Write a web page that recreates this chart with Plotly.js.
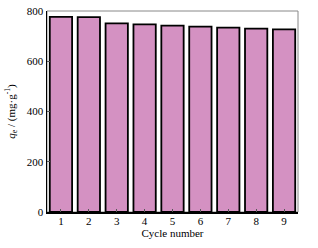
<!DOCTYPE html>
<html><head><meta charset="utf-8">
<script src="https://cdn.plot.ly/plotly-3.0.1.min.js"></script>
<style>html,body{margin:0;padding:0;background:#fff}#c{width:318px;height:248px}</style>
</head><body><div id="c"></div>
<script>
const cycles = [1,2,3,4,5,6,7,8,9];
const qe = [777, 776, 751, 747, 742, 738, 734, 730, 727];
const yTicks = [0,200,400,600,800];

const trace = {
  type: 'bar', x: cycles, y: qe, width: 0.8,
  marker: {color: '#d491c2', line: {color: '#000', width: 1.8}},
  hoverinfo: 'skip'
};
const layout = {
  width: 318, height: 248,
  margin: {l: 47, r: 20, t: 11, b: 36},
  paper_bgcolor: '#fff', plot_bgcolor: '#fff',
  font: {family: 'Liberation Serif, Times New Roman, serif', size: 11, color: '#000'},
  showlegend: false,
  bargap: 0.2,
  xaxis: {
    range: [0.5, 9.5], tickvals: cycles, ticktext: cycles.map(String),
    ticks: 'inside', ticklen: 3, tickcolor: '#555', showgrid: false, zeroline: false,
    showline: true, linecolor: '#000', linewidth: 1.5, ticklabelstandoff: -2,
    tickfont: {size: 11}, title: {text: 'Cycle number', font: {size: 11}, standoff: 2}
  },
  yaxis: {
    range: [0, 800], tickvals: yTicks, ticks: 'inside', ticklen: 3, tickcolor: '#555',
    showgrid: false, zeroline: false, showline: true, linecolor: '#000', linewidth: 1.5,
    tickfont: {size: 11},
    title: {text: '<i>q</i><sub>e</sub> / (mg·g<sup>-1</sup>)', font: {size: 11}, standoff: 9}
  },
  shapes: [{type: 'rect', xref: 'paper', yref: 'paper', x0: 0, x1: 1, y0: 0, y1: 1,
    line: {color: '#888', width: 1}, layer: 'below'}]
};
Plotly.newPlot('c', [trace], layout, {staticPlot: true, displayModeBar: false});
</script></body></html>
